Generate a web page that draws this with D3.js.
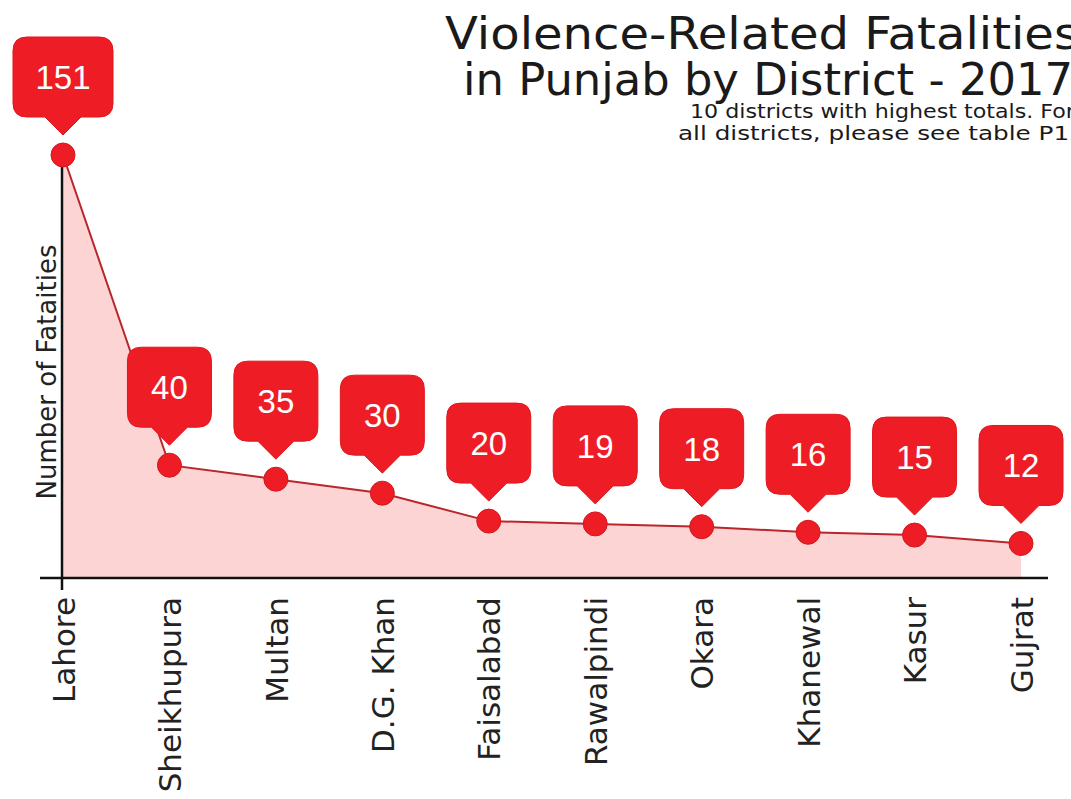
<!DOCTYPE html>
<html>
<head>
<meta charset="utf-8">
<script src="https://cdn.jsdelivr.net/npm/d3@7"></script>
<style>
  html, body { margin: 0; padding: 0; background: #ffffff; overflow: hidden; }
  svg { display: block; }
</style>
</head>
<body>
<svg id="chart" width="1071" height="799"></svg>
<script>
// ---- data ----
const districts = ["Lahore", "Sheikhupura", "Multan", "D.G. Khan", "Faisalabad",
                   "Rawalpindi", "Okara", "Khanewal", "Kasur", "Gujrat"];
const fatalities = [151, 40, 35, 30, 20, 19, 18, 16, 15, 12];
const titleLines = ["Violence-Related Fatalities", "in Punjab by District - 2017"];
const subtitleLines = ["10 districts with highest totals. For", "all districts, please see table P1."];
const yAxisLabel = "Number of Fataities";

const data = districts.map((d, i) => ({ district: d, value: fatalities[i] }));

// ---- layout ----
const W = 1071, H = 799;
const svg = d3.select("#chart");
const FONT = "'DejaVu Sans', sans-serif";

const x = d3.scalePoint().domain(districts).range([63, 1021]);
const y = d3.scaleLinear().domain([0, 151]).range([577, 155]);

const RED = "#ee1d25";
const LINE = "#b9262c";
const FILL = "#fcd4d4";

// area
const area = d3.area()
  .x(d => x(d.district))
  .y0(y(0))
  .y1(d => y(d.value));
svg.append("path").datum(data)
  .attr("d", area)
  .attr("fill", FILL);

// line
const line = d3.line()
  .x(d => x(d.district))
  .y(d => y(d.value));
svg.append("path").datum(data)
  .attr("d", line)
  .attr("fill", "none")
  .attr("stroke", LINE)
  .attr("stroke-width", 2);

// x axis
const xAxis = d3.axisBottom(x).tickSize(0).tickPadding(0);
const gx = svg.append("g")
  .attr("transform", `translate(0,${y(0) + 1})`)
  .call(xAxis);
gx.select(".domain").remove();
gx.selectAll(".tick text")
  .attr("transform", "rotate(-90)")
  .attr("x", -19)
  .attr("y", 0)
  .attr("dy", "0.36em")
  .attr("text-anchor", "end")
  .style("font-family", FONT)
  .style("font-size", "31px")
  .attr("fill", "#222");

// axis lines
svg.append("line")
  .attr("x1", x(districts[0]) - 23).attr("x2", x(districts[districts.length - 1]) + 27)
  .attr("y1", y(0) + 1).attr("y2", y(0) + 1)
  .attr("stroke", "#111").attr("stroke-width", 2.5);
svg.append("line")
  .attr("x1", x(districts[0]) - 1).attr("x2", x(districts[0]) - 1)
  .attr("y1", y(151)).attr("y2", y(0) + 13)
  .attr("stroke", "#111").attr("stroke-width", 2.5);

// y axis label
svg.append("text")
  .attr("transform", `translate(47,372) rotate(-90)`)
  .attr("text-anchor", "middle")
  .attr("dy", "0.36em")
  .style("font-family", FONT)
  .style("font-size", "26px")
  .attr("fill", "#222")
  .text(yAxisLabel);

// points
svg.append("g").selectAll("circle").data(data).join("circle")
  .attr("cx", d => x(d.district))
  .attr("cy", d => y(d.value))
  .attr("r", 12)
  .attr("fill", RED)
  .attr("stroke", "#d0181f")
  .attr("stroke-width", 1);

// callouts
const boxH = 80, ptrH = 18, gap = 20, ptrHalf = 18, rad = 14;
function calloutPath(w) {
  // tip at (0,0)
  const l = -w / 2, r = w / 2, b = -ptrH, t = -ptrH - boxH;
  return `M0,0 L${-ptrHalf},${b} L${l + rad},${b} Q${l},${b} ${l},${b - rad}
          L${l},${t + rad} Q${l},${t} ${l + rad},${t} L${r - rad},${t} Q${r},${t} ${r},${t + rad}
          L${r},${b - rad} Q${r},${b} ${r - rad},${b} L${ptrHalf},${b} Z`;
}
const callouts = svg.append("g").selectAll("g").data(data).join("g")
  .attr("transform", d => `translate(${x(d.district)},${y(d.value) - gap})`);
callouts.append("path")
  .attr("d", d => calloutPath(String(d.value).length > 2 ? 100 : 84))
  .attr("fill", RED)
  .attr("stroke", "#e0161e")
  .attr("stroke-width", 1);
callouts.append("text")
  .attr("x", 0)
  .attr("y", -ptrH - boxH / 2)
  .attr("dy", "0.36em")
  .attr("text-anchor", "middle")
  .style("font-family", "'Liberation Sans', Arial, sans-serif")
  .style("font-size", "33px")
  .attr("fill", "#ffffff")
  .text(d => d.value);

// title
const titleEnds = [1079, 1073];
const titleStarts = [445, 463];
const titleBase = [49, 95];
svg.append("g").selectAll("text").data(titleLines).join("text")
  .attr("x", (d, i) => titleEnds[i])
  .attr("y", (d, i) => titleBase[i])
  .attr("text-anchor", "end")
  .attr("textLength", (d, i) => titleEnds[i] - titleStarts[i])
  .attr("lengthAdjust", "spacingAndGlyphs")
  .style("font-family", FONT)
  .style("font-size", "44px")
  .attr("fill", "#1a1a1a")
  .text(d => d);

const subEnds = [1075, 1077];
const subStarts = [690, 678];
const subBase = [118, 140];
svg.append("g").selectAll("text").data(subtitleLines).join("text")
  .attr("x", (d, i) => subEnds[i])
  .attr("y", (d, i) => subBase[i])
  .attr("text-anchor", "end")
  .attr("textLength", (d, i) => subEnds[i] - subStarts[i])
  .attr("lengthAdjust", "spacingAndGlyphs")
  .style("font-family", FONT)
  .style("font-size", "19px")
  .attr("fill", "#1a1a1a")
  .text(d => d);
</script>
</body>
</html>
